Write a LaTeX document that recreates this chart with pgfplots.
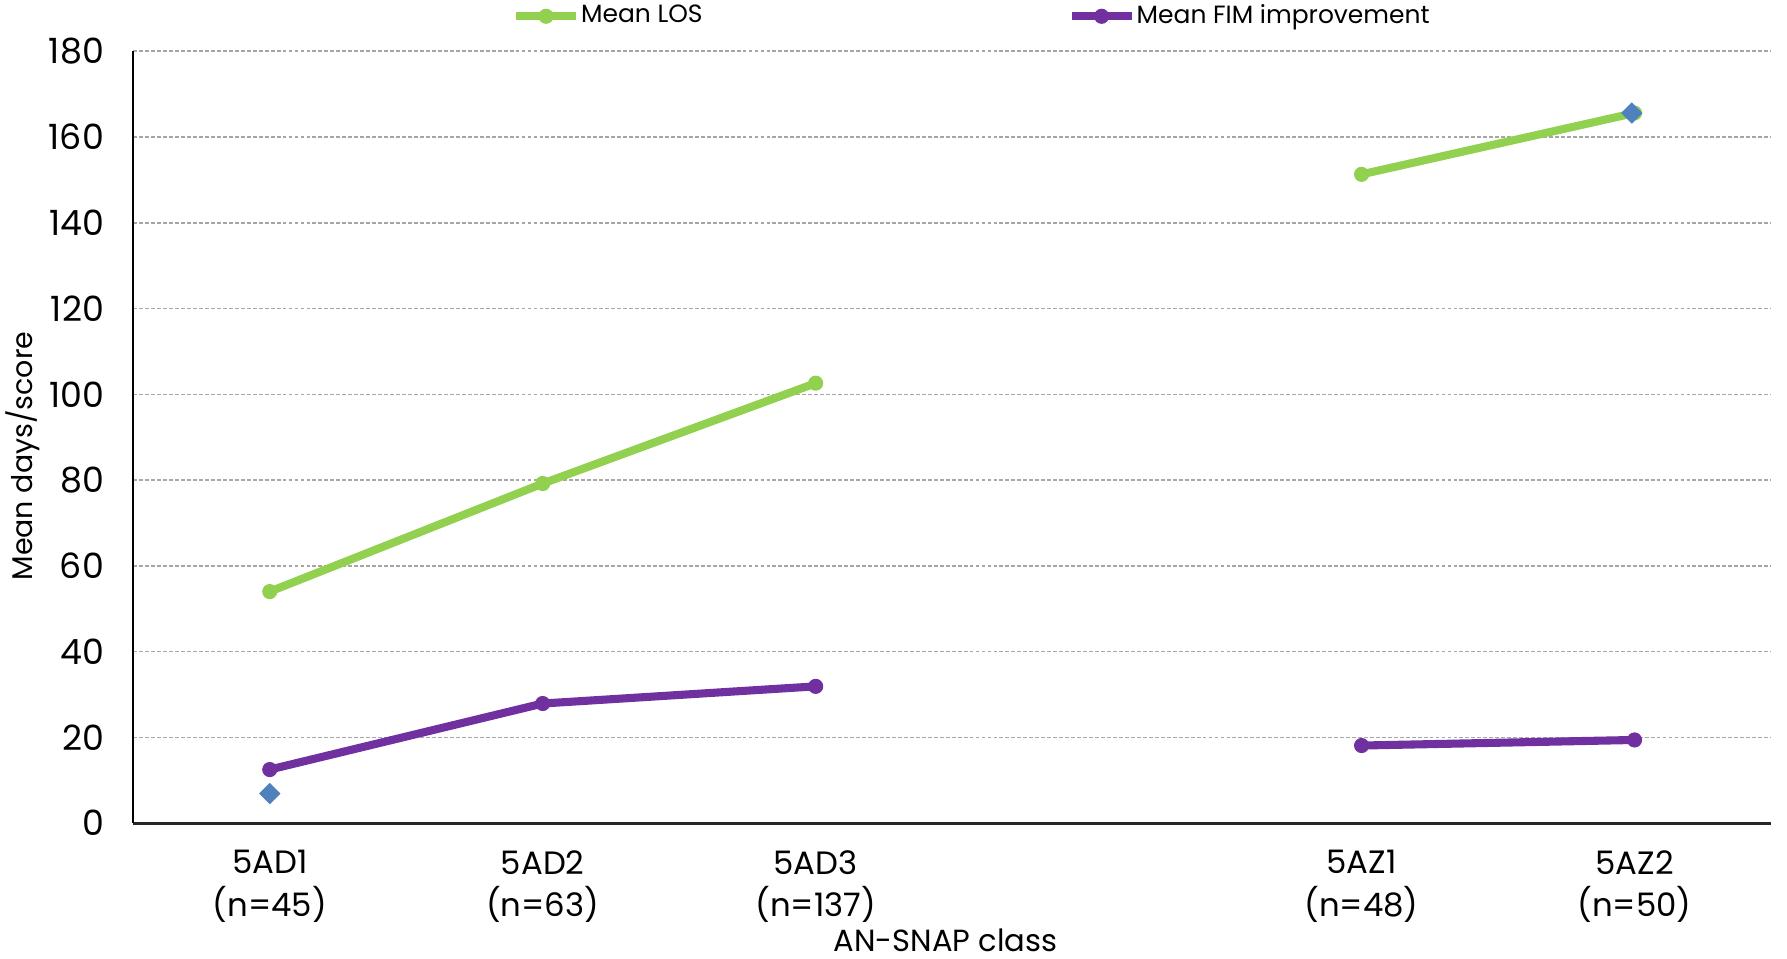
\documentclass[border=0pt]{standalone}
\usepackage{pgfplots}
\pgfplotsset{compat=1.18}
\usepackage{fontspec}
\setmainfont{Poppins}
\definecolor{losgreen}{HTML}{92D050}
\definecolor{fimpurple}{HTML}{7030A0}
\definecolor{diamondblue}{HTML}{4F81BD}
\begin{document}
\begin{tikzpicture}
\begin{axis}[
  scale only axis, width=16.38cm, height=7.72cm,
  xmin=-0.5, xmax=5.5, ymin=0, ymax=180,
  ytick={0,20,...,180},
  xtick={0,1,2,4,5},
  xticklabels={{5AD1\\(n=45)},{5AD2\\(n=63)},{5AD3\\(n=137)},{5AZ1\\(n=48)},{5AZ2\\(n=50)}},
  xticklabel style={align=center, font=\fontsize{9.2}{12.1}\selectfont, yshift=-1.5mm},
  yticklabel style={font=\fontsize{9.9}{11}\selectfont, xshift=-1.7mm},
  /pgf/number format/assume math mode=true,
  major tick length=0pt,
  axis x line*=bottom, axis y line*=left,
  x axis line style={draw=black!85, line width=0.8pt, -},
  y axis line style={draw=black, line width=0.5pt, -},
  ymajorgrids,
  grid style={dash pattern=on 1.1pt off 0.6pt, gray!70, line width=0.45pt},
  xlabel={AN-SNAP class},
  xlabel style={font=\fontsize{8.7}{10}\selectfont, inner sep=0pt, at={(axis description cs:0.496,-0.1521)}, anchor=center},
  ylabel={Mean days/score},
  ylabel style={font=\fontsize{8.1}{10}\selectfont, inner sep=0pt, at={(axis description cs:-0.0675,0.4756)}, anchor=center},
  unbounded coords=jump,
  legend columns=2,
  legend style={at={(0.2308,1)}, anchor=west, yshift=3.5mm, draw=none, fill=none,
    font=\fontsize{7.1}{9}\selectfont, inner sep=0pt,
    nodes={inner sep=0.3pt},
    /tikz/every even column/.append style={column sep=3.64cm}},
  legend cell align=left,
]
\addplot[losgreen, line width=2.3pt, mark=*, mark size=2pt, mark options={fill=losgreen, line width=0.3pt}]
  coordinates {(0,54.0) (1,79.2) (2,102.6) (3,nan) (4,151.3) (5,165.6)};
\addlegendentry{Mean LOS}
\addplot[fimpurple, line width=2.3pt, mark=*, mark size=2pt, mark options={fill=fimpurple, line width=0.3pt}]
  coordinates {(0,12.5) (1,27.9) (2,31.9) (3,nan) (4,18.1) (5,19.4)};
\addlegendentry{Mean FIM improvement}
\addplot[only marks, mark=square*, mark size=2pt, color=diamondblue, mark options={rotate=45, fill=diamondblue, line width=0.3pt}, forget plot]
  coordinates {(0,6.9) (4.99,165.6)};
\end{axis}
\path (current axis.south east) ++(1.6mm,-13.56mm);
\path (current axis.north west) ++(-13.33mm,5.13mm);
\end{tikzpicture}
\end{document}
